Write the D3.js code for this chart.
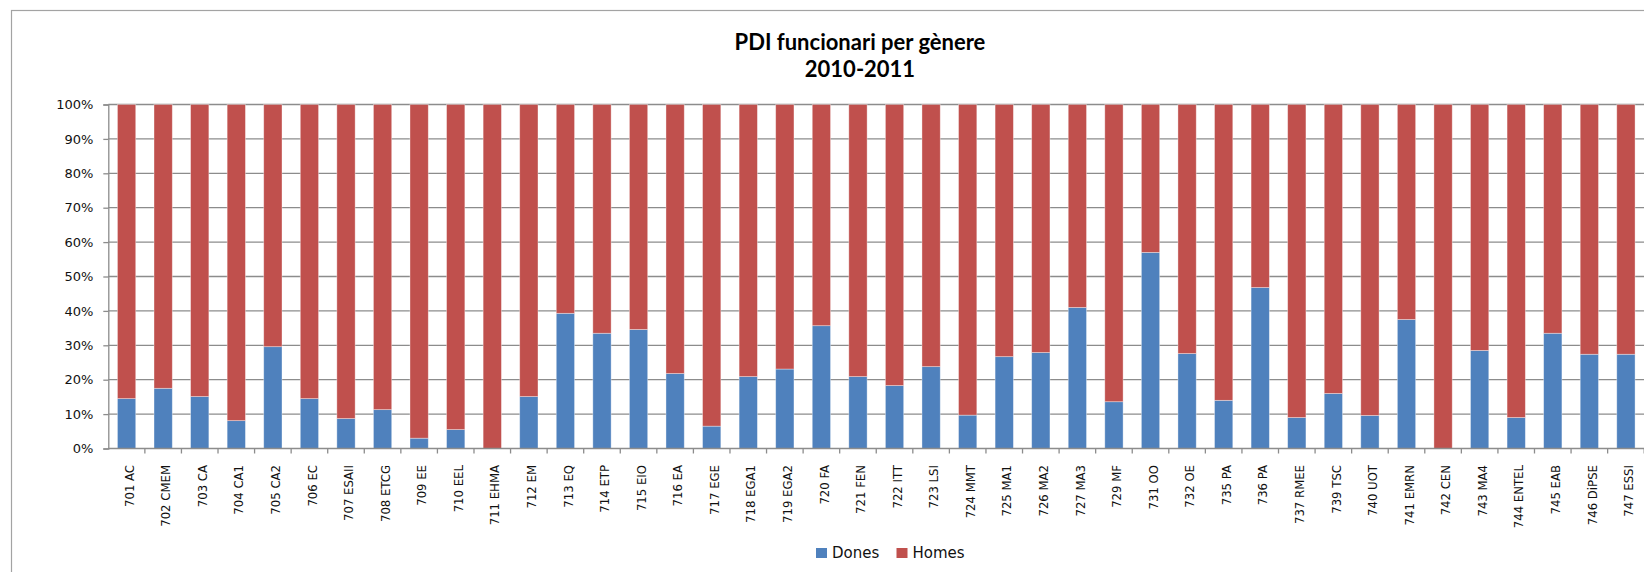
<!DOCTYPE html>
<html><head><meta charset="utf-8">
<script src="https://cdn.jsdelivr.net/npm/d3@7/dist/d3.min.js"></script>
<style>
html,body{margin:0;padding:0;background:#fff;overflow:hidden;}
svg{display:block;}
.ytick text{font-family:"DejaVu Sans",sans-serif;font-size:13px;fill:#111;}
.xtick text{font-family:"DejaVu Sans Condensed","DejaVu Sans",sans-serif;font-stretch:condensed;font-size:13px;fill:#111;}
</style></head>
<body>
<svg id="chart" width="1644" height="572"></svg>
<script>
const categories = ["701 AC","702 CMEM","703 CA","704 CA1","705 CA2","706 EC","707 ESAII","708 ETCG","709 EE","710 EEL","711 EHMA","712 EM","713 EQ","714 ETP","715 EIO","716 EA","717 EGE","718 EGA1","719 EGA2","720 FA","721 FEN","722 ITT","723 LSI","724 MMT","725 MA1","726 MA2","727 MA3","729 MF","731 OO","732 OE","735 PA","736 PA","737 RMEE","739 TSC","740 UOT","741 EMRN","742 CEN","743 MA4","744 ENTEL","745 EAB","746 DiPSE","747 ESSI"];
const dones = [14.5,17.5,15.1,8.1,29.6,14.5,8.7,11.3,3.0,5.5,0,15.1,39.3,33.5,34.6,21.8,6.5,20.9,23.1,35.7,20.9,18.3,23.8,9.7,26.7,27.9,41.0,13.6,57.0,27.6,14.0,46.8,9.0,16.0,9.6,37.5,0,28.5,9.0,33.5,27.4,27.4];
const homes = [85.5,82.5,84.9,91.9,70.4,85.5,91.3,88.7,97.0,94.5,100,84.9,60.7,66.5,65.4,78.2,93.5,79.1,76.9,64.3,79.1,81.7,76.2,90.3,73.3,72.1,59.0,86.4,43.0,72.4,86.0,53.2,91.0,84.0,90.4,62.5,100,71.5,91.0,66.5,72.6,72.6];
const seriesNames = ["Dones","Homes"];
const seriesColors = ["#4F81BD","#C0504D"];
const yTicks = [0,10,20,30,40,50,60,70,80,90,100];
const titleLines = ["PDI funcionari per gènere","2010-2011"];

const svg = d3.select("#chart");
const W = 1644, H = 572;
const plot = {left:108.3, right:1644.2, top:104.5, bottom:448.5};

// outer chart border (clipped at right/bottom like the reference)
svg.append("rect").attr("x",11.5).attr("y",10.5).attr("width",1720).attr("height",640)
  .attr("fill","none").attr("stroke","#a3a3a3").attr("stroke-width",1.2);

const table = categories.map((c,i)=>({cat:c, Dones:dones[i], Homes:homes[i]}));
const stack = d3.stack().keys(seriesNames)(table);

const x = d3.scaleBand().domain(categories).range([plot.left, plot.right]).paddingInner(0.5).paddingOuter(0.25);
const y = d3.scaleLinear().domain([0,100]).range([plot.bottom, plot.top]);

// gridlines
svg.append("g").selectAll("line").data(yTicks.filter(d=>d>0)).join("line")
  .attr("x1",plot.left).attr("x2",W).attr("y1",d=>y(d)).attr("y2",d=>y(d))
  .attr("stroke","#8c8c8c").attr("stroke-width",1.3);

// bars
const gBars = svg.append("g");
stack.forEach((s,si)=>{
  gBars.append("g").selectAll("rect").data(s).join("rect")
    .attr("x",d=>x(d.data.cat)).attr("width",x.bandwidth())
    .attr("y",d=>y(d[1])).attr("height",d=>Math.max(0,y(d[0])-y(d[1])))
    .attr("fill",seriesColors[si])
    .attr("stroke","rgba(255,255,255,0.45)").attr("stroke-width",0.8);
});

// y axis
const yAxis = d3.axisLeft(y).tickValues(yTicks).tickFormat(d=>d+"%").tickSize(5).tickPadding(10);
const gy = svg.append("g").attr("class","ytick").attr("transform",`translate(${plot.left},0)`).call(yAxis);
gy.select(".domain").attr("stroke","#8c8c8c").attr("stroke-width",1.3);
gy.selectAll(".tick line").attr("stroke","#8c8c8c").attr("stroke-width",1.3);

// x axis
const xAxis = d3.axisBottom(x).tickSize(0).tickPadding(0);
const gx = svg.append("g").attr("class","xtick").attr("transform",`translate(0,${plot.bottom})`).call(xAxis);
gx.select(".domain").remove();
gx.append("line").attr("x1",plot.left).attr("x2",W).attr("y1",0).attr("y2",0).attr("stroke","#8c8c8c").attr("stroke-width",1.3);
// category boundary ticks
const step = x.step();
gx.append("g").selectAll("line").data(categories).join("line")
  .attr("x1",d=>x(d)-x.paddingInner()*step/2 + step).attr("x2",d=>x(d)-x.paddingInner()*step/2 + step)
  .attr("y1",0).attr("y2",5).attr("stroke","#8c8c8c").attr("stroke-width",1.3);
gx.selectAll(".tick text")
  .attr("transform","translate(0,16.5) rotate(-90)")
  .attr("text-anchor","end").attr("x",0).attr("y",0).attr("dy","0.55em");

// title
const title = svg.append("text").attr("x",860).attr("text-anchor","middle")
  .style("font-family","Lato, 'Open Sans', sans-serif").style("font-weight","bold").style("font-size","22px").attr("fill","#000");
title.append("tspan").attr("x",860).attr("y",50).text(titleLines[0]);
title.append("tspan").attr("x",860).attr("y",77).text(titleLines[1]);

// legend
const leg = svg.append("g").style("font-family","'DejaVu Sans', sans-serif").style("font-size","15px");
const legX = [816, 896.5];
seriesNames.forEach((n,i)=>{
  leg.append("rect").attr("x",legX[i]).attr("y",548).attr("width",11).attr("height",10).attr("fill",seriesColors[i]);
  leg.append("text").attr("x",legX[i]+16).attr("y",558).text(n).attr("fill","#111");
});
</script>
</body></html>
